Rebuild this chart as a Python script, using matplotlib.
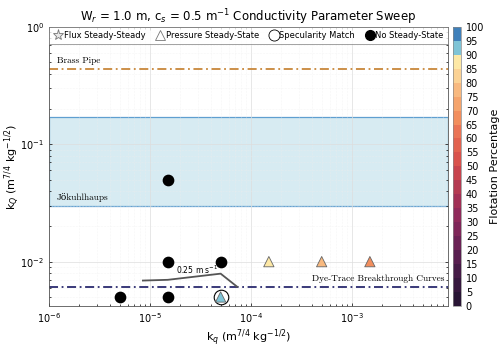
import matplotlib.pyplot as plt
import matplotlib.colors as mcolors
from matplotlib.lines import Line2D
import numpy as np

# --- données ---
nosteady_kq = [5e-6, 1.5e-5, 1.5e-5, 5e-5, 1.5e-5]
nosteady_kQ = [5e-3, 5e-3, 1e-2, 1e-2, 5e-2]

pressure_kq = [5e-5, 1.5e-4, 5e-4, 1.5e-3]
pressure_kQ = [5e-3, 1e-2, 1e-2, 1e-2]
pressure_flot = [92, 87, 77, 67]

spec_kq = [5e-5]
spec_kQ = [5e-3]

contour_kq = [8.5e-6, 1.5e-5, 5e-5, 7.3e-5]
contour_kQ = [6.9e-3, 7.0e-3, 7.9e-3, 6.1e-3]

brass_pipe = 0.44
dye_trace = 6.1e-3
jokulhlaups = (0.030, 0.17)

# --- palette (0 -> 100 par pas de 5) ---
cb_colors = ['#291535', '#37183f', '#461b47', '#581e50', '#6b2255', '#7f2659',
             '#902a5b', '#a23056', '#b43a52', '#c8444d', '#d9524c', '#e2624f',
             '#ea7456', '#f28e5d', '#f5a46c', '#f8b97f', '#fbd294', '#fde8a5',
             '#7fc4d6', '#3f80ba']
cmap = mcolors.ListedColormap(cb_colors)
norm = mcolors.BoundaryNorm(np.arange(0, 105, 5), cmap.N)

fig = plt.figure(figsize=(5, 3.54), dpi=100)
ax = fig.add_axes([0.098, 0.136, 0.798, 0.788])
cax = fig.add_axes([0.906, 0.136, 0.016, 0.788])

# zone Jökulhlaups
ax.axhspan(jokulhlaups[0], jokulhlaups[1], facecolor='#d7ebf2', edgecolor='#5f9fd0', lw=0.9, zorder=1)

ax.axhline(brass_pipe, color='#c8873a', ls=(0, (5, 2, 1, 2)), lw=1.3, zorder=2)
ax.axhline(dye_trace, color='#2a2a6e', ls=(0, (5, 2, 1, 2)), lw=1.3, zorder=2)

serif = ['cmr10', 'DejaVu Serif']
ax.text(1.2e-6, brass_pipe * 1.08, 'Brass Pipe', family=serif, fontsize=6.7, va='bottom', ha='left')
ax.text(1.2e-6, jokulhlaups[0] * 1.07, 'Jökuhlhaups', family=serif, fontsize=6.7, va='bottom', ha='left')
ax.text(8.3e-3, dye_trace * 1.08, 'Dye-Trace Breakthrough Curves', family=serif, fontsize=6.7,
        va='bottom', ha='right')

# contour 0.25 m/s
ax.plot(contour_kq, contour_kQ, color='#555555', lw=1.3, zorder=3)
ax.text(2.9e-5, 7.6e-3, '0.25 m s$^{-1}$', fontsize=5.5, ha='center', va='bottom', zorder=3)

ax.scatter(nosteady_kq, nosteady_kQ, s=55, color='black', zorder=4)
ax.scatter(spec_kq, spec_kQ, s=110, facecolor='white', edgecolor='black', lw=0.8, zorder=4)
ax.scatter(pressure_kq, pressure_kQ, s=55, marker='^', c=pressure_flot, cmap=cmap, norm=norm,
           edgecolor='#666666', lw=0.6, zorder=5)

ax.set_xscale('log')
ax.set_yscale('log')
ax.set_xlim(1e-6, 8.9e-3)
ax.set_ylim(4.2e-3, 1)
ax.grid(True, which='major', color='#dddddd', lw=0.5)
ax.grid(True, which='minor', color='#eeeeee', lw=0.4, ls=':')
ax.tick_params(which='both', direction='in', labelsize=7, top=True, right=True, length=2.5, width=0.5)
ax.tick_params(which='minor', length=1.5)
for sp in ax.spines.values():
    sp.set_color('#555555')
    sp.set_linewidth(0.6)

ax.set_xlabel('k$_q$ (m$^{7/4}$ kg$^{-1/2}$)', fontsize=8, labelpad=2)
ax.set_ylabel('k$_Q$ (m$^{7/4}$ kg$^{-1/2}$)', fontsize=8)
ax.yaxis.set_label_coords(-0.068, 0.5)
ax.set_title('W$_r$ = 1.0 m, c$_s$ = 0.5 m$^{-1}$ Conductivity Parameter Sweep', fontsize=8.5, pad=4)

# légende
handles = [
    Line2D([], [], marker='*', ls='', markerfacecolor='#e8e8e8', markeredgecolor='#777777', markersize=8, mew=0.6),
    Line2D([], [], marker='^', ls='', markerfacecolor='white', markeredgecolor='#777777', markersize=7, mew=0.6),
    Line2D([], [], marker='o', ls='', markerfacecolor='white', markeredgecolor='black', markersize=8, mew=0.6),
    Line2D([], [], marker='o', ls='', markerfacecolor='black', markeredgecolor='black', markersize=7),
]
labels = ['Flux Steady-Steady', 'Pressure Steady-State', 'Specularity Match', 'No Steady-State']
leg = ax.legend(handles, labels, loc='upper center', ncol=4, fontsize=6, frameon=True,
                fancybox=False, edgecolor='#777777', handletextpad=0.1, handlelength=1.2,
                borderaxespad=0.0, bbox_to_anchor=(0.0, 0.0, 1.0, 1.0), mode='expand', borderpad=0.5)
leg.get_frame().set_linewidth(0.6)

# barre de couleur
sm = plt.cm.ScalarMappable(cmap=cmap, norm=norm)
cb = fig.colorbar(sm, cax=cax, ticks=np.arange(0, 105, 5))
cb.ax.tick_params(labelsize=7, length=0)
cb.outline.set_edgecolor('#888888')
cb.outline.set_linewidth(0.5)
cb.set_label('Flotation Percentage', fontsize=8, labelpad=4)

fig.savefig('out.png', dpi=100)
